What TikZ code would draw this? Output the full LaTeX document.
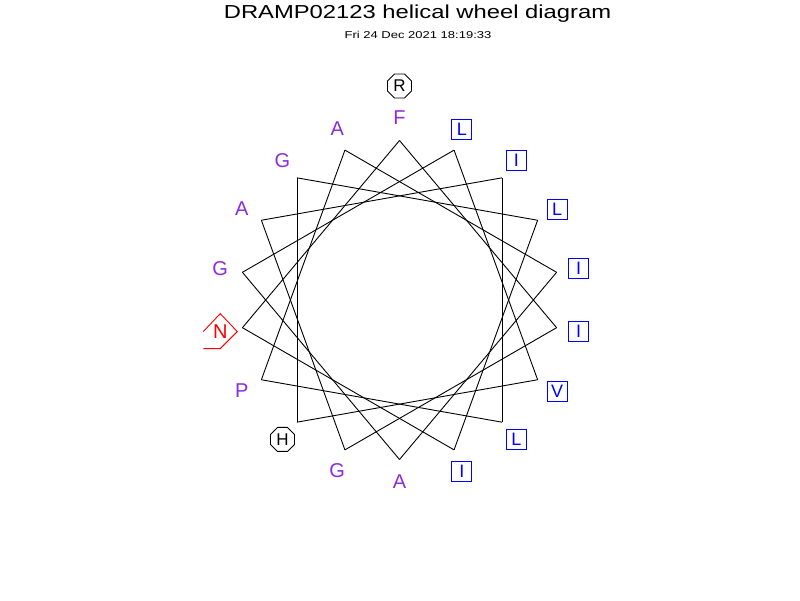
\documentclass[tikz,border=0pt]{standalone}
\usepackage{fontspec}
\setmainfont{Liberation Sans}
\usetikzlibrary{shapes.geometric,calc}
\definecolor{resviolet}{RGB}{138,43,226}
\definecolor{resblue}{RGB}{0,0,255}
\definecolor{resred}{RGB}{255,0,0}
\begin{document}
\begin{tikzpicture}[x=1pt,y=1pt,
  wheel/.style={line width=0.9pt, draw=black},
  plain/.style={text=resviolet, font=\fontsize{20}{20}\selectfont, inner sep=0pt},
  boxed/.style={draw=resblue, text=resblue, line width=0.9pt, minimum size=20pt, inner sep=0pt, font=\fontsize{18}{18}\selectfont},
  octa/.style={regular polygon, regular polygon sides=8, draw=black, text=black, line width=0.9pt, minimum size=26pt, inner sep=0pt, font=\fontsize{17}{17}\selectfont},
  nres/.style={text=resred, inner sep=0pt, font=\fontsize{20}{20}\selectfont},
  titletext/.style={inner sep=0pt, text=black}
]
\useasboundingbox (0,0) rectangle (800,600);
\node[titletext] (title) at (417.5,586) {\scalebox{1.265}[1]{\fontsize{18.8}{19}\selectfont DRAMP02123 helical wheel diagram}};
\node[titletext] (subtitle) at (418,565) {\scalebox{1.3}[1]{\fontsize{10}{10}\selectfont Fri 24 Dec 2021 18:19:33}};
\coordinate (C) at (399.5,300);
\foreach \k in {0,...,17} {
  \path (C) ++({90-20*\k}:159.5) coordinate (v\k);
}
\foreach \k in {0,...,17} {
  \pgfmathtruncatemacro\j{mod(\k+5,18)}
  \draw[wheel] (v\k) -- (v\j);
}
% labels
\path (C) ++(90:182) node[plain] (l0) {F};
\path (C) ++(70:182) node[boxed] (l1) {L};
\path (C) ++(50:182) node[boxed] (l2) {I};
\path (C) ++(30:182) node[boxed] (l3) {L};
\path (C) ++(10:182) node[boxed] (l4) {I};
\path (C) ++(-10:182) node[boxed] (l5) {I};
\path (C) ++(-30:182) node[boxed] (l6) {V};
\path (C) ++(-50:182) node[boxed] (l7) {L};
\path (C) ++(-70:182) node[boxed] (l8) {I};
\path (C) ++(-90:182) node[plain] (l9) {A};
\path (C) ++(-110:182) node[plain] (l10) {G};
\path (C) ++(-130:182) node[octa] (l11) {H};
\path (C) ++(-150:182) node[plain] (l12) {P};
\path (C) ++(-170:182) node[nres] (l13) {N};
\path (C) ++(-190:182) node[plain] (l14) {G};
\path (C) ++(-210:182) node[plain] (l15) {A};
\path (C) ++(-230:182) node[plain] (l16) {G};
\path (C) ++(-250:182) node[plain] (l17) {A};
\path (C) ++(90:214) node[octa] (l18) {R};
\draw[resred, line width=0.9pt] ($(l13.center)+(-17,0)$) -- ++(17,18) -- ++(17,-18) -- ++(-17,-17) -- ++(-17,0);
\end{tikzpicture}
\end{document}
